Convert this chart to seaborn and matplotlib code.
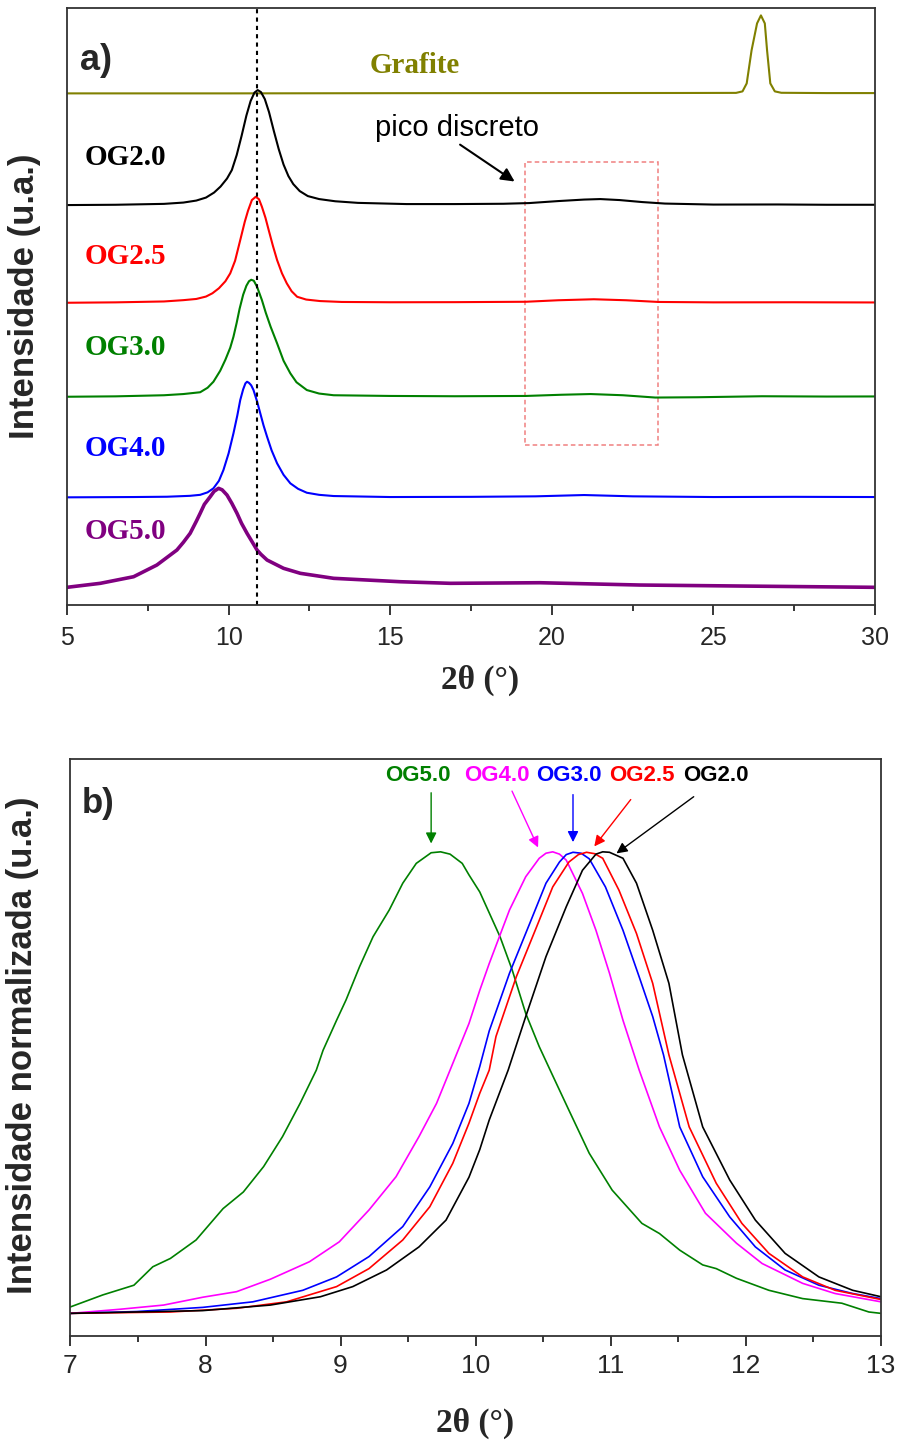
import numpy as np
import pandas as pd
import seaborn as sns
import matplotlib.pyplot as plt
import matplotlib.patches as patches
from matplotlib.ticker import MultipleLocator

# ---- panel a: stacked XRD patterns (intensity above each baseline, a.u.) ----
gr_x = [5.0, 10.0, 15.0, 20.0, 24.0, 25.7, 25.9, 26.03, 26.18, 26.35, 26.47, 26.59, 26.66, 26.76, 26.9, 27.1, 28.5, 30.0]
gr_y = [0.0, 0.0, 0.2, 0.3, 0.4, 0.5, 2.0, 10.0, 43.0, 70.0, 78.0, 70.0, 43.0, 10.0, 2.0, 0.6, 0.3, 0.3]

og20_x = [5.0, 6.5, 8.0, 8.6, 9.0, 9.3, 9.55, 9.75, 9.95, 10.1, 10.25, 10.4, 10.55, 10.68, 10.8, 10.9, 11.0,
          11.12, 11.25, 11.4, 11.55, 11.7, 11.85, 12.0, 12.2, 12.45, 12.8, 13.3, 14.0, 15.5, 17.0, 18.5, 19.3,
          20.2, 21.0, 21.5, 22.1, 22.8, 23.5, 25.0, 27.0, 28.5, 30.0]
og20_y = [0.0, 0.3, 1.2, 2.5, 4.5, 7.5, 12.5, 18.5, 26.5, 35.0, 50.0, 69.0, 89.5, 104.0, 112.5, 115.0, 113.0,
          106.0, 93.0, 74.0, 56.0, 40.5, 29.0, 21.0, 14.0, 9.0, 6.0, 3.8, 2.2, 1.0, 1.0, 1.3, 2.0,
          4.0, 5.5, 6.0, 5.0, 3.0, 1.5, 0.5, 0.6, 0.3, 0.3]

og25_x = [5.0, 6.5, 8.0, 8.6, 9.0, 9.3, 9.5, 9.7, 9.9, 10.05, 10.2, 10.36, 10.5, 10.6, 10.72, 10.84, 10.94,
          11.03, 11.14, 11.24, 11.37, 11.5, 11.65, 11.8, 11.95, 12.12, 12.4, 12.83, 13.5, 15.0, 17.0, 19.2,
          20.2, 21.3, 22.3, 23.3, 25.0, 27.5, 30.0]
og25_y = [0.0, 0.4, 1.3, 2.6, 3.8, 6.2, 9.5, 14.5, 21.5, 29.4, 42.0, 62.7, 81.0, 92.0, 102.7, 106.0, 103.5,
          96.0, 85.0, 72.7, 57.0, 42.7, 29.5, 19.4, 11.5, 6.0, 3.2, 1.7, 0.8, 0.5, 0.6, 1.0,
          2.5, 3.5, 2.5, 0.8, 0.4, 0.5, 0.3]

og30_x = [5.0, 6.5, 8.0, 8.6, 9.12, 9.35, 9.53, 9.74, 9.9, 10.05, 10.15, 10.25, 10.34, 10.45, 10.55, 10.63,
          10.7, 10.78, 10.88, 11.03, 11.15, 11.3, 11.5, 11.7, 11.91, 12.1, 12.42, 12.8, 13.25, 15.0, 17.0,
          19.2, 20.3, 21.2, 22.2, 23.2, 24.5, 26.5, 28.5, 30.0]
og30_y = [0.0, 0.4, 1.5, 2.7, 4.5, 9.0, 15.0, 26.0, 37.0, 49.0, 60.0, 74.0, 88.0, 102.0, 111.0, 115.5,
          117.0, 116.0, 110.0, 96.7, 84.0, 70.0, 53.4, 36.0, 23.4, 14.5, 6.7, 3.2, 1.5, 0.8, 0.5,
          0.8, 2.0, 2.7, 1.5, -0.8, -0.5, 0.5, 0.2, 0.3]

og40_x = [5.0, 7.06, 8.09, 8.8, 9.12, 9.35, 9.53, 9.7, 9.84, 10.0, 10.15, 10.27, 10.36, 10.45, 10.52, 10.57,
          10.63, 10.7, 10.77, 10.88, 10.98, 11.08, 11.19, 11.33, 11.5, 11.7, 11.91, 12.15, 12.42, 12.8, 13.25,
          15.0, 17.5, 19.5, 21.0, 22.5, 25.0, 27.5, 30.0]
og40_y = [0.0, 0.3, 0.6, 1.5, 2.5, 5.0, 9.0, 16.5, 27.3, 44.0, 64.0, 82.0, 97.3, 108.0, 114.0, 115.6,
          114.5, 112.0, 107.3, 96.0, 84.0, 72.0, 60.6, 47.0, 34.0, 22.5, 14.0, 8.5, 4.6, 2.5, 1.3,
          0.3, 0.5, 1.0, 2.3, 1.0, 0.3, 0.5, 0.3]

og50_x = [5.0, 6.03, 7.06, 7.78, 8.40, 8.6, 8.81, 9.0, 9.12, 9.25, 9.43, 9.55, 9.69, 9.8, 9.95, 10.1, 10.26,
          10.4, 10.57, 10.7, 10.88, 11.0, 11.19, 11.70, 12.22, 13.25, 15.31, 16.86, 19.63, 22.72, 25.81, 30.0]
og50_y = [0.0, 4.0, 10.6, 22.3, 37.3, 45.0, 54.0, 66.0, 74.0, 83.0, 90.6, 96.0, 99.0, 97.5, 92.3, 84.0, 74.0,
          64.0, 54.0, 47.0, 37.3, 33.0, 27.3, 19.0, 14.0, 9.0, 5.6, 4.0, 4.6, 2.3, 1.3, 0.0]

names_a = ['Grafite', 'OG2.0', 'OG2.5', 'OG3.0', 'OG4.0', 'OG5.0']
offsets_a = [511.7, 400.0, 302.3, 208.3, 107.7, 17.7]
colors_a = ['#808000', '#000000', '#ff0000', '#008000', '#0000ff', '#800080']

# ---- panel b: normalized main peak ----
b50_x = [7.0, 7.24, 7.47, 7.61, 7.74, 7.93, 8.13, 8.28, 8.43, 8.57, 8.70, 8.82, 8.87, 8.97, 9.04, 9.14, 9.24,
         9.36, 9.46, 9.56, 9.67, 9.74, 9.81, 9.90, 9.95, 10.03, 10.18, 10.27, 10.37, 10.47, 10.57, 10.69, 10.84,
         11.01, 11.23, 11.36, 11.51, 11.68, 11.78, 11.93, 12.17, 12.42, 12.71, 12.91, 13.0]
b50_y = [0.014, 0.040, 0.061, 0.101, 0.119, 0.159, 0.227, 0.263, 0.318, 0.383, 0.455, 0.527, 0.570, 0.635, 0.679,
         0.751, 0.816, 0.874, 0.932, 0.975, 0.998, 1.0, 0.995, 0.975, 0.950, 0.913, 0.816, 0.744, 0.650, 0.578,
         0.515, 0.440, 0.347, 0.267, 0.195, 0.173, 0.137, 0.105, 0.097, 0.076, 0.050, 0.032, 0.022, 0.003, 0.0]

b40_x = [7.0, 7.37, 7.69, 7.98, 8.23, 8.48, 8.77, 8.99, 9.21, 9.41, 9.58, 9.71, 9.81, 9.95, 10.03, 10.10, 10.25,
         10.37, 10.47, 10.52, 10.57, 10.62, 10.67, 10.79, 10.89, 10.99, 11.09, 11.21, 11.36, 11.51, 11.70, 11.93,
         12.12, 12.42, 12.66, 13.0]
b40_y = [0.0, 0.009, 0.018, 0.035, 0.047, 0.074, 0.112, 0.155, 0.224, 0.296, 0.383, 0.455, 0.527, 0.628, 0.700,
         0.758, 0.874, 0.946, 0.986, 0.997, 1.0, 0.995, 0.982, 0.910, 0.830, 0.737, 0.635, 0.527, 0.404, 0.310,
         0.217, 0.152, 0.108, 0.065, 0.043, 0.025]

b30_x = [7.0, 7.49, 7.98, 8.35, 8.72, 8.97, 9.21, 9.46, 9.66, 9.83, 9.95, 10.03, 10.10, 10.25, 10.40, 10.52,
         10.62, 10.67, 10.72, 10.78, 10.84, 10.96, 11.09, 11.21, 11.31, 11.39, 11.51, 11.68, 11.88, 12.07, 12.29,
         12.54, 12.79, 13.0]
b30_y = [0.0, 0.004, 0.013, 0.025, 0.050, 0.079, 0.123, 0.188, 0.274, 0.368, 0.455, 0.535, 0.612, 0.737, 0.845,
         0.932, 0.978, 0.994, 0.999, 0.997, 0.985, 0.924, 0.830, 0.729, 0.643, 0.560, 0.404, 0.296, 0.209, 0.144,
         0.094, 0.061, 0.043, 0.032]

b25_x = [7.0, 7.74, 8.23, 8.60, 8.97, 9.21, 9.46, 9.66, 9.83, 9.95, 10.03, 10.10, 10.15, 10.30, 10.45, 10.57,
         10.69, 10.76, 10.82, 10.88, 10.94, 11.06, 11.19, 11.31, 11.43, 11.58, 11.78, 11.97, 12.17, 12.42, 12.66,
         13.0]
b25_y = [0.0, 0.003, 0.011, 0.025, 0.058, 0.097, 0.159, 0.231, 0.325, 0.412, 0.477, 0.527, 0.600, 0.729, 0.837,
         0.924, 0.978, 0.994, 0.999, 0.996, 0.986, 0.917, 0.823, 0.715, 0.560, 0.404, 0.282, 0.195, 0.130, 0.079,
         0.050, 0.030]

b20_x = [7.0, 7.98, 8.48, 8.85, 9.09, 9.34, 9.58, 9.78, 9.95, 10.03, 10.10, 10.24, 10.37, 10.52, 10.67, 10.79,
         10.89, 10.94, 10.99, 11.09, 11.19, 11.31, 11.43, 11.53, 11.68, 11.88, 12.07, 12.29, 12.54, 12.79, 13.0]
b20_y = [0.0, 0.006, 0.018, 0.036, 0.058, 0.094, 0.144, 0.202, 0.295, 0.355, 0.419, 0.527, 0.643, 0.773, 0.881,
         0.960, 0.995, 1.0, 0.999, 0.986, 0.932, 0.830, 0.715, 0.560, 0.404, 0.289, 0.202, 0.130, 0.079, 0.050,
         0.036]

names_b = ['OG5.0', 'OG4.0', 'OG3.0', 'OG2.5', 'OG2.0']
colors_b = ['#008000', '#ff00ff', '#0000ff', '#ff0000', '#000000']
label_x_b = [9.57, 10.16, 10.69, 11.23, 11.78]
arrow_from_b = [(9.67, 1.134), (10.26, 1.137), (10.72, 1.130), (11.16, 1.118), (11.63, 1.123)]
arrow_to_b = [(9.67, 1.012), (10.47, 1.004), (10.72, 1.015), (10.865, 1.007), (11.025, 0.993)]

sns.set_theme(style='ticks')
plt.rcParams['font.family'] = ['Liberation Sans', 'DejaVu Sans']
plt.rcParams['axes.edgecolor'] = '#333333'
plt.rcParams['axes.linewidth'] = 1.3

fig = plt.figure(figsize=(8.97, 14.45), dpi=100)
ax1 = fig.add_axes([0.0747, 0.5813, 0.9008, 0.4131])
ax2 = fig.add_axes([0.0785, 0.0756, 0.9037, 0.3991])

# panel a
curves_a = [(gr_x, gr_y), (og20_x, og20_y), (og25_x, og25_y), (og30_x, og30_y), (og40_x, og40_y), (og50_x, og50_y)]
rows = []
for name, (xs, ys), off in zip(names_a, curves_a, offsets_a):
    for x, y in zip(xs, ys):
        rows.append({'two_theta': x, 'intensity': y + off, 'amostra': name})
df_a = pd.DataFrame(rows)

for name, col in zip(names_a, colors_a):
    sub = df_a[df_a['amostra'] == name]
    sns.lineplot(data=sub, x='two_theta', y='intensity', color=col, ax=ax1,
                 lw=2.6 if name == 'OG5.0' else 1.5, estimator=None, sort=False)

ax1.axvline(10.89, color='black', ls=(0, (2, 2)), lw=1.5)
ax1.add_patch(patches.Rectangle((19.17, 160), 4.12, 283, fill=False, edgecolor='#f08080',
                                lw=1.1, ls=(0, (3, 2))))
ax1.annotate('', xy=(18.92, 422), xytext=(17.09, 462),
             arrowprops=dict(arrowstyle='-|>', color='black', lw=1.5, mutation_scale=20))
ax1.text(14.53, 477, 'pico discreto', fontsize=21, ha='left', va='center', color='black')

ax1.text(14.37, 540, 'Grafite', fontsize=21, fontweight='bold', family='Liberation Serif',
         color=colors_a[0], ha='left', va='center')
label_y_a = [448, 349, 258, 157, 74]
for name, col, ly in zip(names_a[1:], colors_a[1:], label_y_a):
    ax1.text(5.53, ly, name, fontsize=21, fontweight='bold', family='Liberation Serif',
             color=col, ha='left', va='center')
ax1.text(5.40, 545, 'a)', fontsize=26, fontweight='bold', ha='left', va='center')

ax1.set_xlim(5, 30)
ax1.set_ylim(0, 597)
ax1.set_yticks([])
ax1.xaxis.set_major_locator(MultipleLocator(5))
ax1.xaxis.set_minor_locator(MultipleLocator(2.5))
ax1.tick_params(axis='x', which='major', direction='out', length=7, width=1.3, labelsize=18, pad=8)
ax1.tick_params(axis='x', which='minor', direction='out', length=4, width=1.3)
ax1.set_xlabel('2θ (°)', fontsize=24, fontweight='bold', family='Liberation Serif', va='top')
ax1.xaxis.set_label_coords(0.511, -0.1)
ax1.set_ylabel('Intensidade (u.a.)', fontsize=25, fontweight='bold', va='center')
ax1.yaxis.set_label_coords(-0.052, 0.518)

# panel b
curves_b = [(b50_x, b50_y), (b40_x, b40_y), (b30_x, b30_y), (b25_x, b25_y), (b20_x, b20_y)]
rows = []
for name, (xs, ys) in zip(names_b, curves_b):
    for x, y in zip(xs, ys):
        rows.append({'two_theta': x, 'norm': y, 'amostra': name})
df_b = pd.DataFrame(rows)

for name, col in zip(names_b, colors_b):
    sub = df_b[df_b['amostra'] == name]
    sns.lineplot(data=sub, x='two_theta', y='norm', color=col, ax=ax2, lw=1.2, estimator=None, sort=False)

for name, col, lx, a0, a1 in zip(names_b, colors_b, label_x_b, arrow_from_b, arrow_to_b):
    ax2.text(lx, 1.166, name, color=col, fontsize=16, fontweight='bold', ha='center', va='center')
    ax2.annotate('', xy=a1, xytext=a0,
                 arrowprops=dict(arrowstyle='-|>', color=col, lw=1.0, mutation_scale=16))
ax2.text(7.086, 1.105, 'b)', fontsize=25, fontweight='bold', ha='left', va='center')

ax2.set_xlim(7, 13)
ax2.set_ylim(-0.0485, 1.201)
ax2.set_yticks([])
ax2.xaxis.set_major_locator(MultipleLocator(1))
ax2.xaxis.set_minor_locator(MultipleLocator(0.5))
ax2.tick_params(axis='x', which='major', direction='out', length=7, width=1.3, labelsize=19, pad=6)
ax2.tick_params(axis='x', which='minor', direction='out', length=4, width=1.3)
for lab in ax2.get_xticklabels():
    lab.set_family(['Liberation Sans Narrow', 'Liberation Sans'])
ax2.set_xlabel('2θ (°)', fontsize=24, fontweight='bold', family='Liberation Serif', va='top')
ax2.xaxis.set_label_coords(0.499, -0.125)
ax2.set_ylabel('Intensidade normalizada (u.a.)', fontsize=25, fontweight='bold', va='center')
ax2.yaxis.set_label_coords(-0.0585, 0.504)

fig.savefig('out.png', dpi=100)
